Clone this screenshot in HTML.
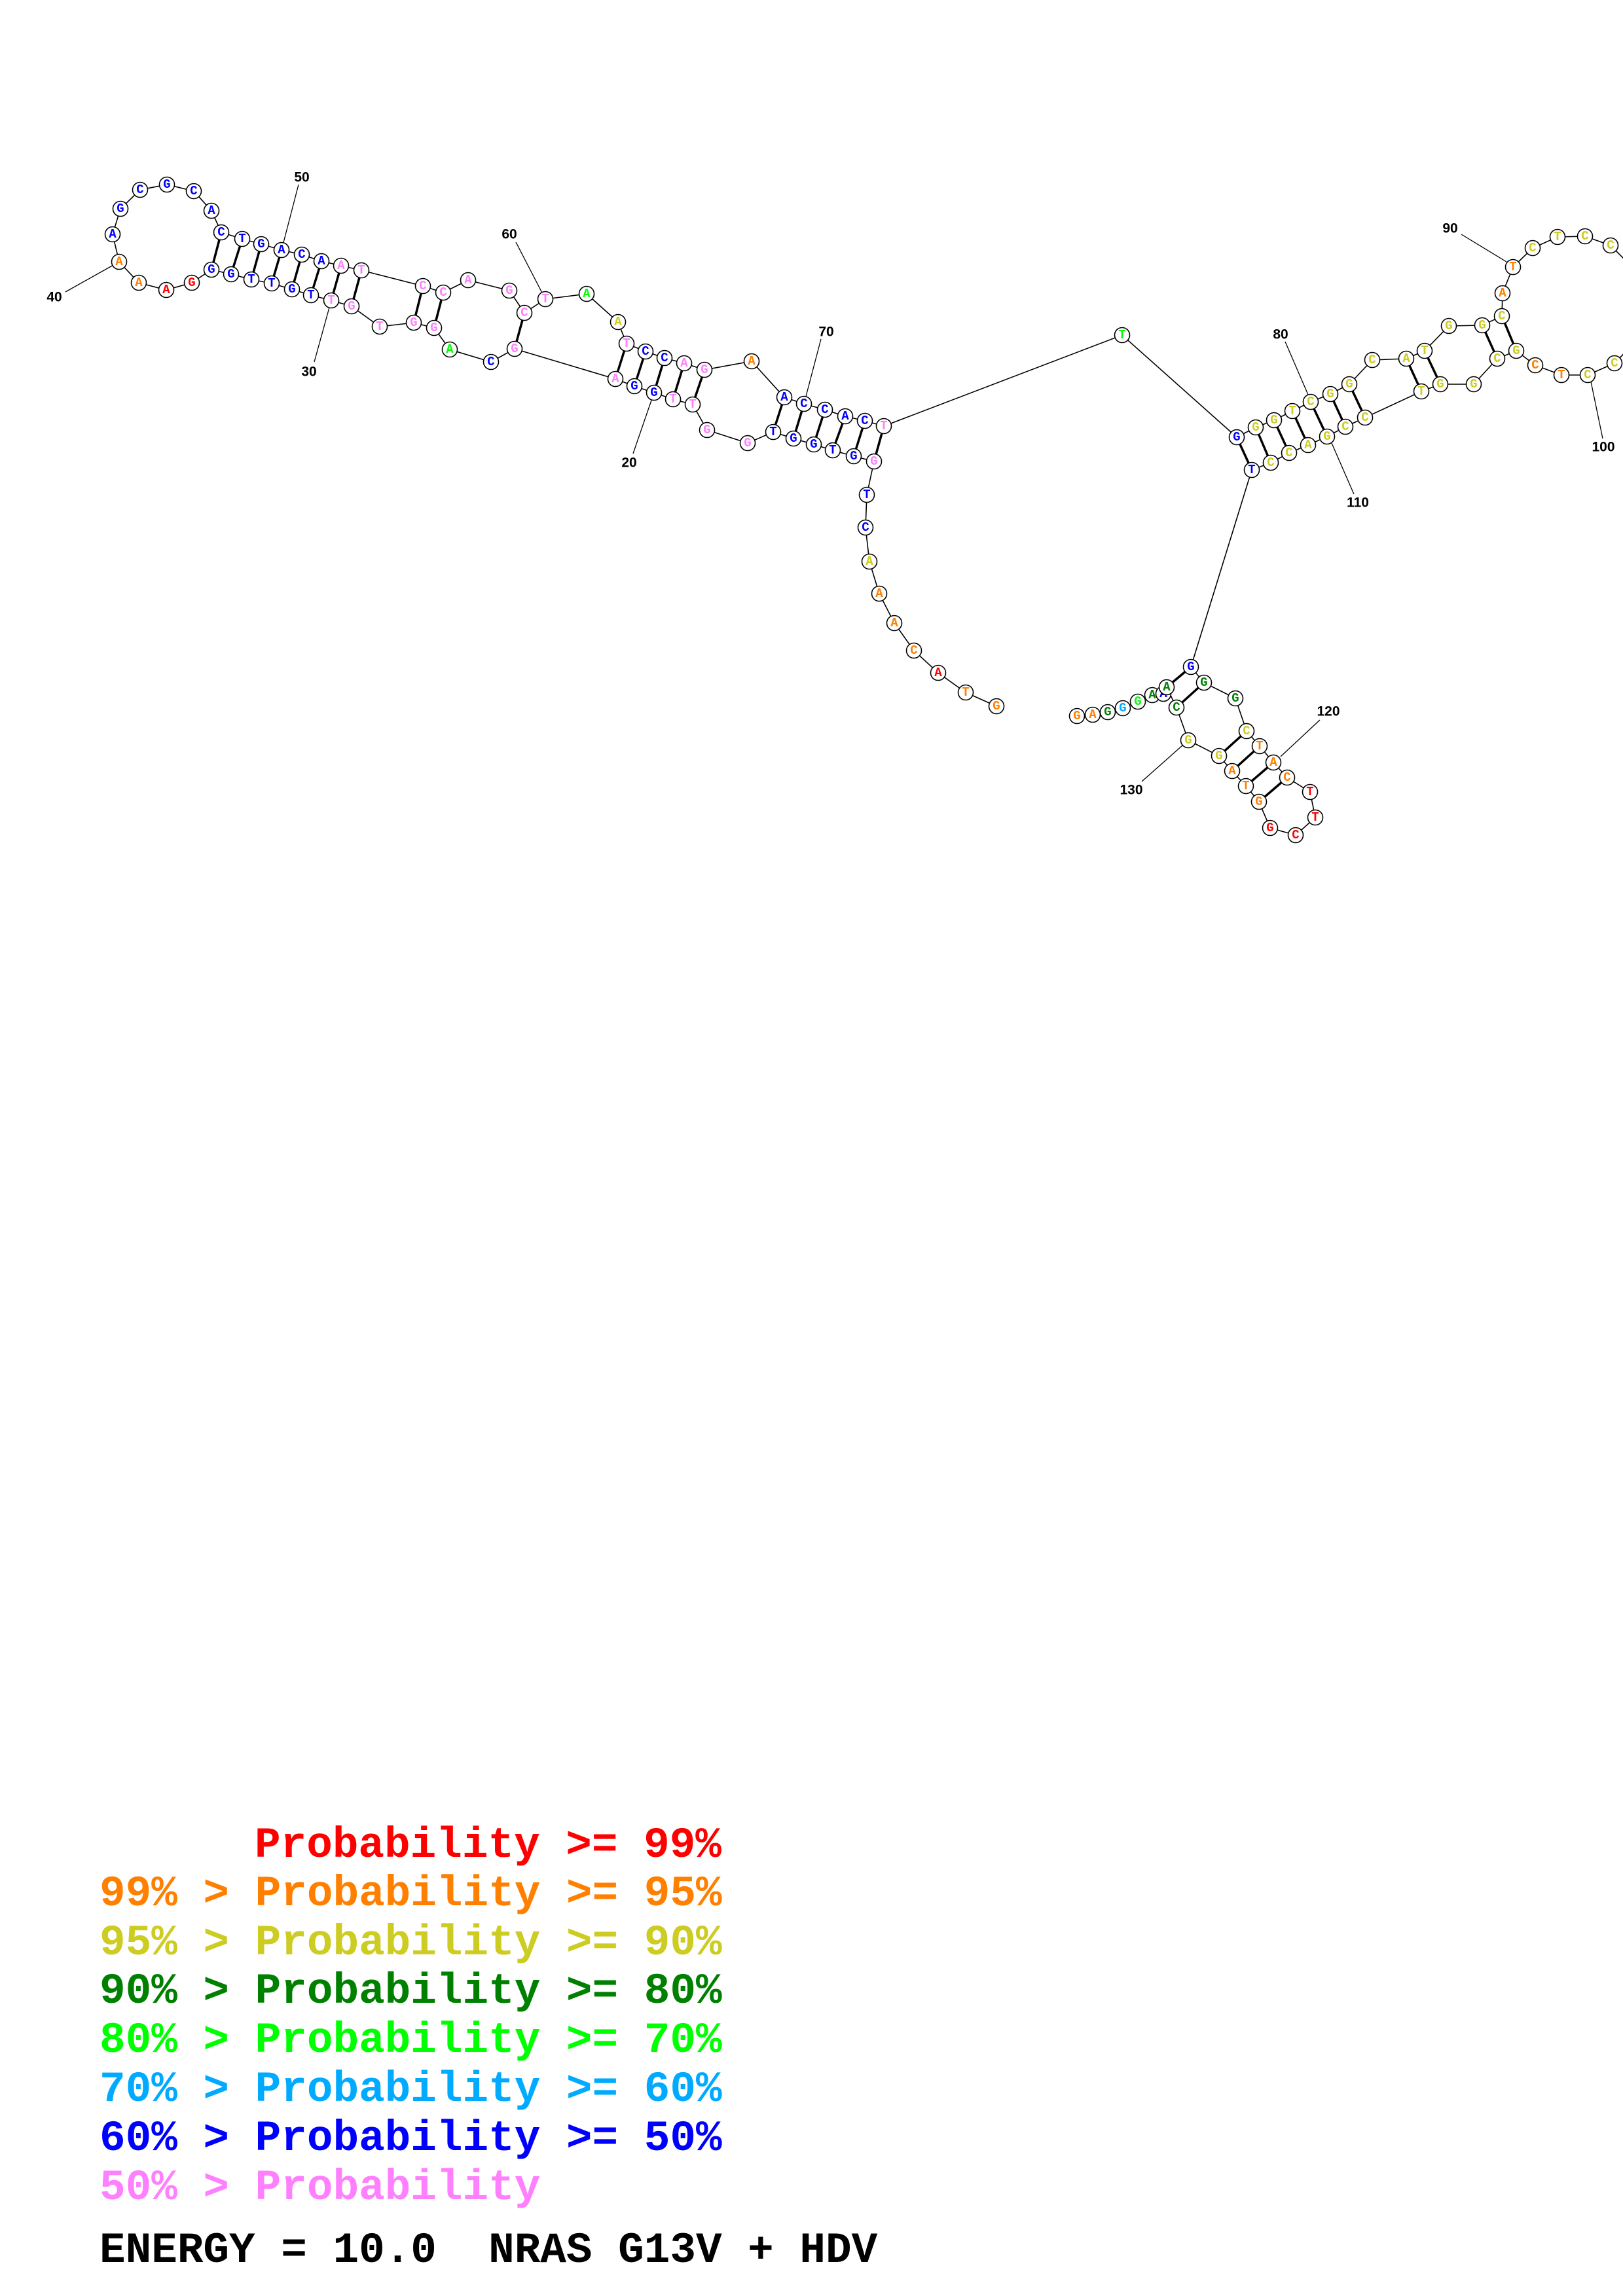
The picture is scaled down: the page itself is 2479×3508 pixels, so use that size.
<!DOCTYPE html>
<html><head><meta charset="utf-8"><style>
html,body{margin:0;padding:0;background:#fff;}
svg{display:block;}
.n circle{fill:#fff;stroke:#000;stroke-width:1.6;}
.n text{font-family:"Liberation Mono",monospace;font-weight:bold;font-size:19px;text-anchor:middle;dominant-baseline:central;}
.lb{font-family:"Liberation Sans",sans-serif;font-weight:bold;font-size:21px;text-anchor:middle;dominant-baseline:central;fill:#000;}
.lg{font-family:"Liberation Mono",monospace;font-weight:bold;font-size:66px;white-space:pre;}
</style></head><body>
<svg width="2479" height="3508" viewBox="0 0 2479 3508" xmlns="http://www.w3.org/2000/svg">
<rect width="2479" height="3508" fill="#fff"/>
<polyline fill="none" stroke="#000" stroke-width="1.6" points="1522,1079 1475,1058 1433,1028 1396,994 1366,952 1343,907 1328,858 1322,806 1324,756 1335,705 1304,697 1272,688 1243,679 1212,670 1181,660 1142,677 1080,657 1058,618 1028,610 999,600 969,590 940,579 786,533 750,553 687,534 663,501 632,493 580,499 537,468 506,459 475,451 446,442 415,433 384,427 353,419 323,412 293,432 254,443 212,432 182,400 172,358 184,319 214,290 255,282 296,292 323,322 338,355 370,365 399,373 430,382 461,389 491,399 521,406 552,413 646,437 677,447 715,428 778,444 801,478 833,457 896,449 944,492 957,525 986,537 1015,547 1045,555 1076,565 1148,552 1198,607 1228,617 1260,626 1291,636 1321,643 1350,651 1714,512 1889,668 1918,653 1946,642 1974,628 2002,614 2032,602 2061,587 2096,550 2148,548 2176,536 2213,498 2264,497 2294,483 2295,448 2311,408 2341,379 2379,362 2421,361 2460,375 2495,410 2515,460 2505,515 2466,555 2425,573 2385,573 2345,558 2316,536 2287,548 2251,587 2200,587 2171,598 2085,638 2055,652 2027,667 1998,680 1969,692 1941,707 1912,718 1819,1019 1839,1043 1887,1067 1904,1117 1924,1140 1945,1165 1966,1188 2001,1210 2009,1249 1979,1276 1940,1265 1923,1225 1903,1201 1882,1178 1862,1155 1815,1131 1797,1081 1782,1050 1760,1062 1738,1072 1715,1082 1692,1088 1669,1092 1645,1094"/>
<g stroke="#000" stroke-width="3.5">
<line x1="338" y1="355" x2="323" y2="412"/><line x1="370" y1="365" x2="353" y2="419"/><line x1="399" y1="373" x2="384" y2="427"/><line x1="430" y1="382" x2="415" y2="433"/><line x1="461" y1="389" x2="446" y2="442"/><line x1="491" y1="399" x2="475" y2="451"/><line x1="521" y1="406" x2="506" y2="459"/><line x1="552" y1="413" x2="537" y2="468"/>
<line x1="646" y1="437" x2="632" y2="493"/><line x1="677" y1="447" x2="663" y2="501"/><line x1="801" y1="478" x2="786" y2="533"/>
<line x1="957" y1="525" x2="940" y2="579"/><line x1="986" y1="537" x2="969" y2="590"/><line x1="1015" y1="547" x2="999" y2="600"/><line x1="1045" y1="555" x2="1028" y2="610"/><line x1="1076" y1="565" x2="1058" y2="618"/>
<line x1="1198" y1="607" x2="1181" y2="660"/><line x1="1228" y1="617" x2="1212" y2="670"/><line x1="1260" y1="626" x2="1243" y2="679"/><line x1="1291" y1="636" x2="1272" y2="688"/><line x1="1321" y1="643" x2="1304" y2="697"/><line x1="1350" y1="651" x2="1335" y2="705"/>
<line x1="1889" y1="668" x2="1912" y2="718"/><line x1="1918" y1="653" x2="1941" y2="707"/><line x1="1946" y1="642" x2="1969" y2="692"/><line x1="1974" y1="628" x2="1998" y2="680"/><line x1="2002" y1="614" x2="2027" y2="667"/><line x1="2032" y1="602" x2="2055" y2="652"/><line x1="2061" y1="587" x2="2085" y2="638"/>
<line x1="2148" y1="548" x2="2171" y2="598"/><line x1="2176" y1="536" x2="2200" y2="587"/><line x1="2264" y1="497" x2="2287" y2="548"/><line x1="2294" y1="483" x2="2316" y2="536"/>
<line x1="1819" y1="1019" x2="1782" y2="1050"/><line x1="1839" y1="1043" x2="1797" y2="1081"/><line x1="1904" y1="1117" x2="1862" y2="1155"/><line x1="1924" y1="1140" x2="1882" y2="1178"/><line x1="1945" y1="1165" x2="1903" y2="1201"/><line x1="1966" y1="1188" x2="1923" y2="1225"/>
</g>
<g stroke="#000" stroke-width="1.3">
<line x1="182" y1="400" x2="100" y2="446"/><line x1="430" y1="382" x2="456" y2="282"/><line x1="506" y1="459" x2="480" y2="553"/><line x1="833" y1="457" x2="788" y2="370"/><line x1="999" y1="600" x2="967" y2="693"/><line x1="1228" y1="617" x2="1254" y2="518"/>
<line x1="1998" y1="603" x2="1963" y2="522"/><line x1="2301" y1="400" x2="2232" y2="358"/><line x1="2430" y1="583" x2="2448" y2="670"/><line x1="2034" y1="677" x2="2068" y2="755"/>
<line x1="1956" y1="1156" x2="2016" y2="1100"/><line x1="1815" y1="1131" x2="1744" y2="1194"/>
</g>
<g class="lb">
<text x="83" y="454">40</text><text x="461" y="271">50</text><text x="472" y="568">30</text><text x="778" y="358">60</text><text x="961" y="707">20</text><text x="1262" y="507">70</text>
<text x="1956" y="511">80</text><text x="2215" y="349">90</text><text x="2449" y="683">100</text><text x="2074" y="768">110</text><text x="2029" y="1087">120</text><text x="1728" y="1207">130</text>
</g>
<g class="n" id="nodes"></g>
<text class="lg" x="389" y="2837" fill="#ff0000">Probability &gt;= 99%</text>
<text class="lg" x="152" y="2911" fill="#ff8000">99% &gt; Probability &gt;= 95%</text>
<text class="lg" x="152" y="2986" fill="#cccc22">95% &gt; Probability &gt;= 90%</text>
<text class="lg" x="152" y="3060" fill="#008000">90% &gt; Probability &gt;= 80%</text>
<text class="lg" x="152" y="3135" fill="#00ff00">80% &gt; Probability &gt;= 70%</text>
<text class="lg" x="152" y="3210" fill="#00aaff">70% &gt; Probability &gt;= 60%</text>
<text class="lg" x="152" y="3285" fill="#0000ff">60% &gt; Probability &gt;= 50%</text>
<text class="lg" x="152" y="3360" fill="#ff80ff">50% &gt; Probability</text>
<text class="lg" x="152" y="3456" fill="#000">ENERGY = 10.0  NRAS G13V + HDV</text>
</svg>
<script>
var C={P:"#ff80ff",B:"#0000ff",O:"#ff8000",R:"#ff0000",Y:"#cccc22",G:"#008000",L:"#00ff00",C:"#00aaff"};
var N="182,400,A,O 212,432,A,O 254,443,A,R 293,432,G,R 323,412,G,B 353,419,G,B 384,427,T,B 415,433,T,B 446,442,G,B 475,451,T,B 506,459,T,P 537,468,G,P 580,499,T,P 632,493,G,P 663,501,G,P 687,534,A,L 750,553,C,B 786,533,G,P 940,579,A,P 969,590,G,B 999,600,G,B 1028,610,T,P 1058,618,T,P 1080,657,G,P 1142,677,G,P 1181,660,T,B 1212,670,G,B 1243,679,G,B 1272,688,T,B 1304,697,G,B 1335,705,G,P 1350,651,T,P 1321,643,C,B 1291,636,A,B 1260,626,C,B 1228,617,C,B 1198,607,A,B 1148,552,A,O 1076,565,G,P 1045,555,A,P 1015,547,C,B 986,537,C,B 957,525,T,P 944,492,A,Y 896,449,A,L 833,457,T,P 801,478,C,P 778,444,G,P 715,428,A,P 677,447,C,P 646,437,C,P 552,413,T,P 521,406,A,P 491,399,A,B 461,389,C,B 430,382,A,B 399,373,G,B 370,365,T,B 338,355,C,B 323,322,A,B 296,292,C,B 255,282,G,B 214,290,C,B 184,319,G,B 172,358,A,B "+
"1324,756,T,B 1322,806,C,B 1328,858,A,Y 1343,907,A,O 1366,952,A,O 1396,994,C,O 1433,1028,A,R 1475,1058,T,O 1522,1079,G,O "+
"1714,512,T,L 1889,668,G,B 1912,718,T,B 1918,653,G,Y 1946,642,G,Y 1974,628,T,Y 2002,614,C,Y 2032,602,G,Y 2061,587,G,Y 2096,550,C,Y 2148,548,A,Y 2176,536,T,Y 2213,498,G,Y 2264,497,G,Y 2294,483,C,Y 2295,448,A,O 2311,408,T,O 2341,379,C,Y 2379,362,T,Y 2421,361,C,Y 2460,375,C,Y 2495,410,C,Y 2515,460,C,Y 2505,515,C,Y 2466,555,C,Y 2425,573,C,Y 2385,573,T,O 2345,558,C,O 2316,536,G,Y 2287,548,C,Y 2251,587,G,Y 2200,587,G,Y 2171,598,T,Y 2085,638,C,Y 2055,652,C,Y 2027,667,G,Y 1998,680,A,Y 1969,692,C,Y 1941,707,C,Y "+
"1819,1019,G,B 1839,1043,G,G 1887,1067,G,G 1904,1117,C,Y 1924,1140,T,O 1945,1165,A,O 1966,1188,C,O 2001,1210,T,R 2009,1249,T,R 1979,1276,C,R 1940,1265,G,R 1923,1225,G,O 1903,1201,T,O 1882,1178,A,O 1862,1155,G,Y 1815,1131,G,Y 1797,1081,C,G 1645,1094,G,O 1669,1092,A,O 1692,1088,G,G 1715,1082,G,C 1738,1072,G,L 1760,1062,A,G 1777,1060,A,B 1782,1050,A,G";
var g=document.getElementById("nodes"),ns="http://www.w3.org/2000/svg",h="";
N.split(" ").forEach(function(s){var p=s.split(",");h+='<circle cx="'+p[0]+'" cy="'+p[1]+'" r="11.5"/><text x="'+p[0]+'" y="'+p[1]+'" fill="'+C[p[3]]+'">'+p[2]+'</text>';});
g.innerHTML=h;
</script>
</body></html>
